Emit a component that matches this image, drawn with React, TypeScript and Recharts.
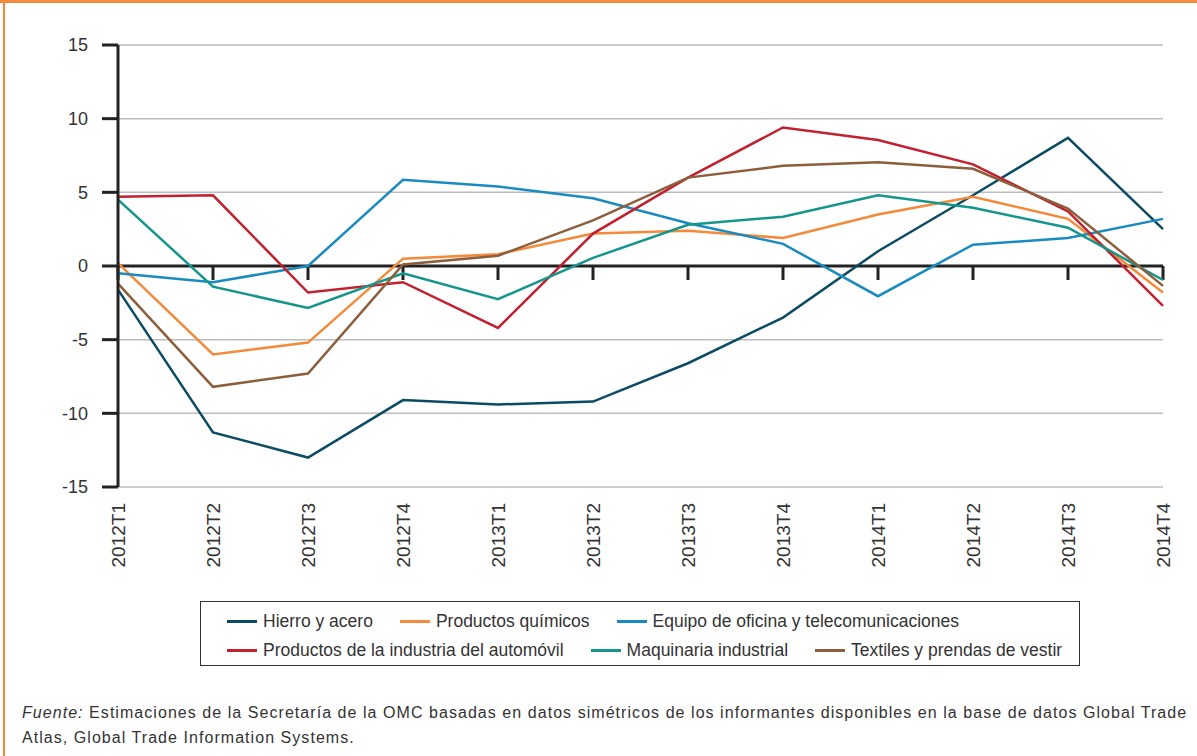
import { LineChart, Line, XAxis, YAxis, CartesianGrid, ReferenceLine } from 'recharts';

const quarters = [
  '2012T1', '2012T2', '2012T3', '2012T4',
  '2013T1', '2013T2', '2013T3', '2013T4',
  '2014T1', '2014T2', '2014T3', '2014T4',
];

const hierroYAcero = [-1.6, -11.3, -13.0, -9.1, -9.4, -9.2, -6.6, -3.5, 1.0, 4.8, 8.7, 2.5];
const productosQuimicos = [0.2, -6.0, -5.2, 0.5, 0.8, 2.2, 2.4, 1.9, 3.5, 4.7, 3.2, -1.8];
const equipoOficina = [-0.5, -1.1, 0.0, 5.85, 5.4, 4.6, 2.9, 1.5, -2.05, 1.45, 1.9, 3.2];
const automovil = [4.7, 4.8, -1.8, -1.1, -4.2, 2.2, 6.0, 9.4, 8.55, 6.9, 3.7, -2.7];
const maquinaria = [4.5, -1.4, -2.85, -0.5, -2.25, 0.55, 2.8, 3.35, 4.8, 3.95, 2.6, -0.95];
const textiles = [-1.2, -8.2, -7.3, 0.1, 0.7, 3.1, 6.0, 6.8, 7.05, 6.6, 3.9, -1.35];

const yTicks = [-15, -10, -5, 0, 5, 10, 15];

const series = [
  { key: 'hierro', name: 'Hierro y acero', color: '#0c4b64', values: hierroYAcero },
  { key: 'quimicos', name: 'Productos químicos', color: '#f5893a', values: productosQuimicos },
  { key: 'oficina', name: 'Equipo de oficina y telecomunicaciones', color: '#1a8bc1', values: equipoOficina },
  { key: 'auto', name: 'Productos de la industria del automóvil', color: '#c3202f', values: automovil },
  { key: 'maquinaria', name: 'Maquinaria industrial', color: '#14968c', values: maquinaria },
  { key: 'textiles', name: 'Textiles y prendas de vestir', color: '#8c5e3b', values: textiles },
];

const data = quarters.map((q, i) => {
  const row: Record<string, string | number> = { q };
  series.forEach((s) => {
    row[s.key] = s.values[i];
  });
  return row;
});

const FONT = '"Liberation Sans", Arial, sans-serif';

const QuarterTick = ({ x, y, payload }: any) => (
  <text
    x={x}
    y={y + 8}
    transform={`rotate(-90, ${x}, ${y + 8})`}
    textAnchor="end"
    dy="0.36em"
    fontSize={19}
    fill="#333"
    fontFamily={FONT}
  >
    {payload.value}
  </text>
);

function LegendBox() {
  const rows = [series.slice(0, 3), series.slice(3)];
  return (
    <div
      style={{
        position: 'absolute',
        left: 200,
        top: 601,
        width: 880,
        height: 65,
        border: '1px solid #333',
        fontFamily: FONT,
        fontSize: 17.5,
        color: '#333',
        paddingTop: 5,
        boxSizing: 'border-box',
      }}
    >
      {rows.map((row, ri) => (
        <div
          key={ri}
          style={{ display: 'flex', alignItems: 'center', height: 29, paddingLeft: 26, whiteSpace: 'nowrap' }}
        >
          {row.map((s) => (
            <div
              key={s.key}
              style={{ display: 'flex', alignItems: 'center', marginRight: 27, flexShrink: 0 }}
            >
              <span
                style={{ display: 'inline-block', width: 30, height: 3, background: s.color, marginRight: 6 }}
              />
              <span>{s.name}</span>
            </div>
          ))}
        </div>
      ))}
    </div>
  );
}

export default function App() {
  return (
    <div
      style={{
        position: 'fixed',
        left: 0,
        top: 0,
        width: 1197,
        height: 756,
        background: '#fff',
        overflow: 'hidden',
      }}
    >
      <div style={{ position: 'absolute', left: 0, top: 0, width: 1197, height: 3, background: '#f5893a' }} />
      <div style={{ position: 'absolute', left: 3, top: 0, width: 2, height: 756, background: '#f5893a' }} />

      <div style={{ position: 'absolute', left: 0, top: 0 }}>
        <LineChart
          width={1197}
          height={590}
          data={data}
          margin={{ top: 45, right: 34, bottom: 0, left: 0 }}
        >
          <CartesianGrid vertical={false} stroke="#bdbdbd" strokeWidth={1.5} />
          <XAxis
            dataKey="q"
            axisLine={false}
            tickLine={false}
            interval={0}
            height={103}
            tick={<QuarterTick />}
          />
          <YAxis
            domain={[-15, 15]}
            ticks={yTicks}
            width={118}
            axisLine={{ stroke: '#222', strokeWidth: 3 }}
            tickLine={{ stroke: '#222', strokeWidth: 3 }}
            tickSize={16}
            tickMargin={14}
            tick={{ fontSize: 18, fill: '#333', fontFamily: FONT }}
          />
          <ReferenceLine y={0} stroke="#222" strokeWidth={3} />
          {quarters.map((q) => (
            <ReferenceLine
              key={q}
              segment={[{ x: q, y: 0 }, { x: q, y: -0.95 }]}
              stroke="#222"
              strokeWidth={3}
            />
          ))}
          {series.map((s) => (
            <Line
              key={s.key}
              type="linear"
              dataKey={s.key}
              name={s.name}
              stroke={s.color}
              strokeWidth={2.5}
              dot={false}
              isAnimationActive={false}
            />
          ))}
        </LineChart>
      </div>

      <LegendBox />

      <div
        style={{
          position: 'absolute',
          left: 22,
          top: 700,
          fontFamily: FONT,
          fontSize: 16,
          letterSpacing: 1.05,
          lineHeight: '25px',
          color: '#333',
          whiteSpace: 'nowrap',
        }}
      >
        <i>Fuente:</i> Estimaciones de la Secretaría de la OMC basadas en datos simétricos de los informantes disponibles en la base de datos Global Trade
        <br />
        Atlas, Global Trade Information Systems.
      </div>
    </div>
  );
}
